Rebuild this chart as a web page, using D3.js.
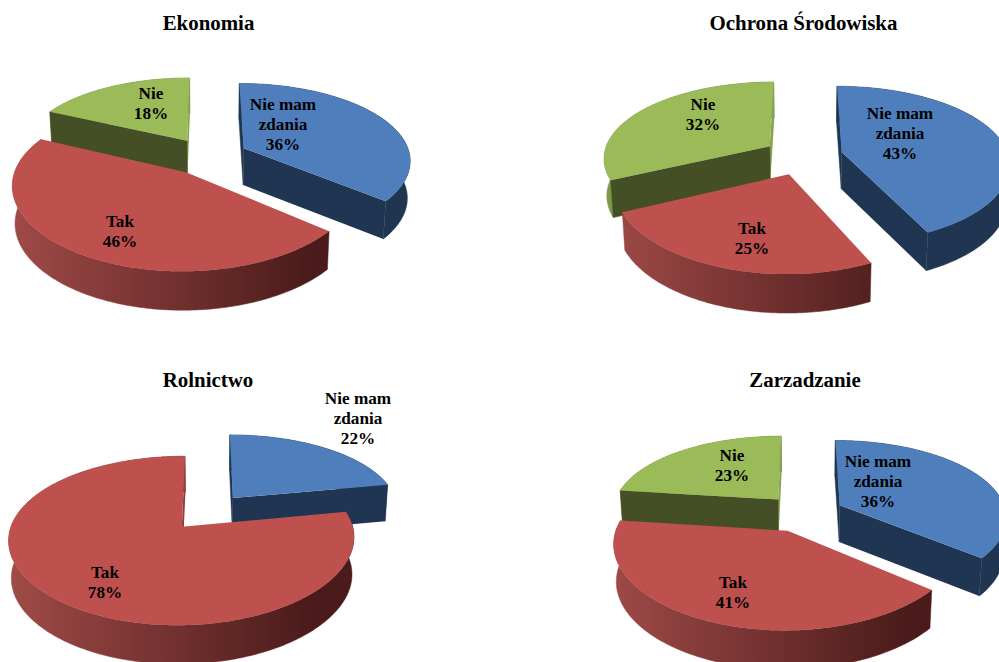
<!DOCTYPE html>
<html>
<head>
<meta charset="utf-8">
<script src="https://cdn.jsdelivr.net/npm/d3@7"></script>
<style>
  html, body { margin: 0; padding: 0; background: #fff; overflow: hidden; }
  text { font-family: "Liberation Serif", serif; font-weight: bold; fill: #000; }
</style>
</head>
<body>
<div id="chart"></div>
<script>
// dane
const titles = ['Ekonomia', 'Ochrona Środowiska', 'Rolnictwo', 'Zarzadzanie'];
const categories = ['Nie mam zdania', 'Tak', 'Nie'];
const ekonomia = [36, 46, 18];
const ochrona = [43, 25, 32];
const rolnictwo = [22, 78, 0];
const zarzadzanie = [36, 41, 23];
const seriesValues = [ekonomia, ochrona, rolnictwo, zarzadzanie];

// uklad: srodek kola i tytul
const layout = [
    { cx: 208, cy: 156, titleX: 208.5, titleY: 30 },
    { cx: 803, cy: 156, titleX: 803.5, titleY: 30 },
    { cx: 208, cy: 512, titleX: 208, titleY: 387 },
    { cx: 804, cy: 513, titleX: 805, titleY: 387 }
];
// pozycje etykiet (x srodka, y pierwszej linii) w kolejnosci kategorii
const labelPos = [
    [[283, 110], [120, 227], [151, 99]],
    [[900, 119], [752, 234], [703, 110]],
    [[358, 404], [105, 578], null],
    [[878, 467], [733, 588], [732, 461]]
];

const colors = [
    { top: '#4e7fbc', light: '#4a6f9f', dark: '#1f3552', radial: '#1f3552', end: '#1f3552' },
    { top: '#be504d', light: '#a24c49', dark: '#4a1b1a', radial: '#4a1b1a', end: '#8f3f3d' },
    { top: '#9bbb59', light: '#7f9b48', dark: '#5a6d34', radial: '#444f26', end: '#86a24c' }
];

const W = 999, H = 662;
const R = 166.5, K = 0.465, P = 0.16, PX = 0.14, DEPTH = 37, EXPLODE = 40, SHRINK = 0.014;

const svg = d3.select('#chart').append('svg')
    .attr('width', W)
    .attr('height', H)
    .style('display', 'block');
const defs = svg.append('defs');

const pie = d3.pie().sort(null).startAngle(0).endAngle(2 * Math.PI);
const line = d3.line().curve(d3.curveLinearClosed);

function drawPie(values, pos, chartIndex) {
    const arcs = pie(values).map((d, i) => ({ ...d, cat: i })).filter(d => d.value > 0);

    // rzut perspektywiczny: y > 0 blizej patrzacego, dol walca troche mniejszy
    const project = (x, y, z) => {
        const w = 1 / (1 - P * y / R);
        const wx = 1 / (1 - PX * y / R);
        const s = 1 - SHRINK * z;
        return [pos.cx + x * wx * s, pos.cy + K * y * w * s + DEPTH * z * (1 + (w - 1) * 0.4)];
    };

    colors.forEach((c, i) => {
        const grad = defs.append('linearGradient')
            .attr('id', `wall-${chartIndex}-${i}`)
            .attr('gradientUnits', 'userSpaceOnUse')
            .attr('x1', pos.cx - R - EXPLODE)
            .attr('x2', pos.cx + R + EXPLODE)
            .attr('y1', 0)
            .attr('y2', 0);
        grad.append('stop').attr('offset', 0).attr('stop-color', c.light);
        grad.append('stop').attr('offset', 0.75).attr('stop-color', c.dark);
        grad.append('stop').attr('offset', 1).attr('stop-color', c.dark);
    });

    arcs.forEach(d => {
        const mid = (d.startAngle + d.endAngle) / 2;
        d.ox = EXPLODE * Math.sin(mid);
        d.oy = -EXPLODE * Math.cos(mid);
    });
    arcs.sort((a, b) => a.oy - b.oy);

    const g = svg.append('g');
    arcs.forEach(d => {
        const n = Math.max(8, Math.ceil((d.endAngle - d.startAngle) * 60));
        const angles = d3.range(n + 1).map(i => d.startAngle + (d.endAngle - d.startAngle) * i / n);
        const rim = z => angles.map(a => project(d.ox + R * Math.sin(a), d.oy - R * Math.cos(a), z));
        const apex = z => project(d.ox, d.oy, z);
        const c = colors[d.cat];

        const rimTop = rim(0), rimBottom = rim(1);

        // sciana zewnetrzna
        g.append('path')
            .attr('d', line(rimTop.concat(rimBottom.slice().reverse())))
            .attr('fill', `url(#wall-${chartIndex}-${d.cat})`)
            .attr('stroke', `url(#wall-${chartIndex}-${d.cat})`)
            .attr('stroke-width', 0.5);

        // sciany przy srodku, tylko te zwrocone do patrzacego
        const endWall = [apex(0), rimTop[n], rimBottom[n], apex(1)];
        const startWall = [apex(0), rimTop[0], rimBottom[0], apex(1)];
        if (d3.polygonArea(endWall) < 0) {
            g.append('path')
                .attr('d', line(endWall))
                .attr('fill', c.end);
        }
        if (d3.polygonArea(startWall) > 0) {
            g.append('path')
                .attr('d', line(startWall))
                .attr('fill', c.radial)
                .attr('stroke', c.radial)
                .attr('stroke-width', 0.5);
        }

        // wierzch
        g.append('path')
            .attr('d', line([apex(0)].concat(rimTop)))
            .attr('fill', c.top);
    });
}

seriesValues.forEach((values, i) => drawPie(values, layout[i], i));

// tytuly
svg.selectAll('text.chart-title')
    .data(titles)
    .join('text')
    .attr('class', 'chart-title')
    .attr('x', (d, i) => layout[i].titleX)
    .attr('y', (d, i) => layout[i].titleY)
    .attr('text-anchor', 'middle')
    .style('font-size', '20.9px')
    .text(d => d);

// etykiety
seriesValues.forEach((values, i) => {
    values.forEach((v, j) => {
        if (!labelPos[i][j]) return;
        const [x, y] = labelPos[i][j];
        const lines = (categories[j] === 'Nie mam zdania' ? ['Nie mam', 'zdania'] : [categories[j]]).concat(v + '%');
        const t = svg.append('text')
            .attr('text-anchor', 'middle')
            .style('font-size', '17.2px');
        lines.forEach((s, k) => {
            t.append('tspan')
                .attr('x', x)
                .attr('y', y + k * 20)
                .text(s);
        });
    });
});
</script>
</body>
</html>
